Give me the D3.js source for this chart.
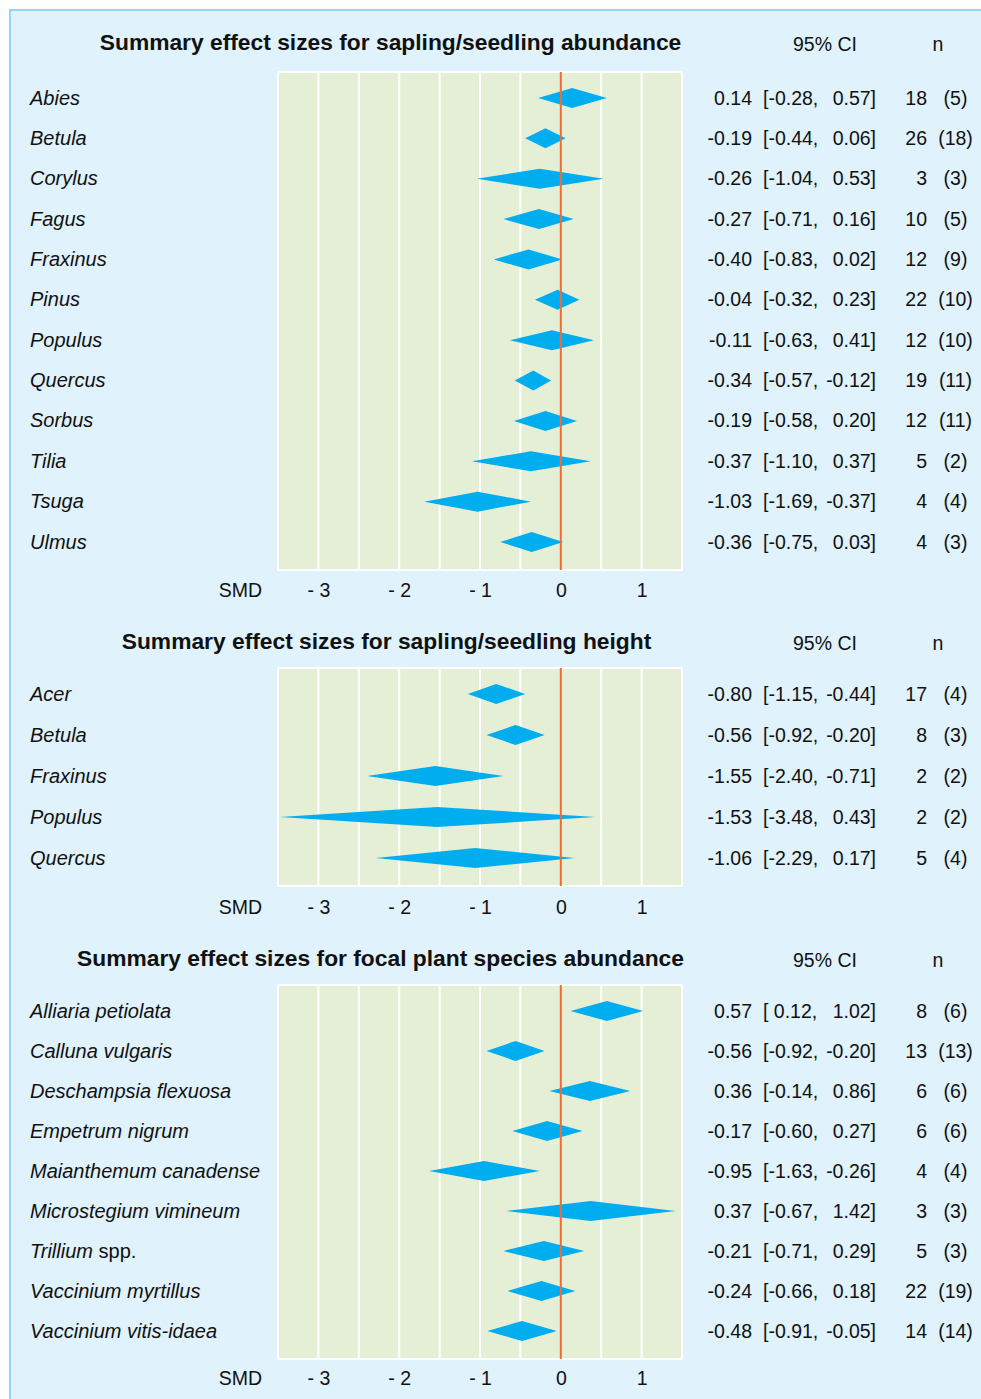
<!DOCTYPE html>
<html>
<head>
<meta charset="utf-8">
<script src="https://cdn.jsdelivr.net/npm/d3@7"></script>
<style>
  html, body { margin: 0; padding: 0; background: #ffffff; }
  svg { display: block; }
  text { font-family: "Liberation Sans", Arial, Helvetica, sans-serif; fill: #111; }
</style>
</head>
<body>
<script>
// ---- Sapling/seedling abundance ----
const abundanceSpecies = ["Abies", "Betula", "Corylus", "Fagus", "Fraxinus", "Pinus", "Populus", "Quercus", "Sorbus", "Tilia", "Tsuga", "Ulmus"];
const abundanceEst  = [0.14, -0.19, -0.26, -0.27, -0.40, -0.04, -0.11, -0.34, -0.19, -0.37, -1.03, -0.36];
const abundanceLow  = [-0.28, -0.44, -1.04, -0.71, -0.83, -0.32, -0.63, -0.57, -0.58, -1.10, -1.69, -0.75];
const abundanceHigh = [0.57, 0.06, 0.53, 0.16, 0.02, 0.23, 0.41, -0.12, 0.20, 0.37, -0.37, 0.03];
const abundanceN    = [18, 26, 3, 10, 12, 22, 12, 19, 12, 5, 4, 4];
const abundanceK    = [5, 18, 3, 5, 9, 10, 10, 11, 11, 2, 4, 3];

// ---- Sapling/seedling height ----
const heightSpecies = ["Acer", "Betula", "Fraxinus", "Populus", "Quercus"];
const heightEst  = [-0.80, -0.56, -1.55, -1.53, -1.06];
const heightLow  = [-1.15, -0.92, -2.40, -3.48, -2.29];
const heightHigh = [-0.44, -0.20, -0.71, 0.43, 0.17];
const heightN    = [17, 8, 2, 2, 5];
const heightK    = [4, 3, 2, 2, 4];

// ---- Focal plant species abundance ----
const focalSpecies = ["Alliaria petiolata", "Calluna vulgaris", "Deschampsia flexuosa", "Empetrum nigrum", "Maianthemum canadense", "Microstegium vimineum", "Trillium spp.", "Vaccinium myrtillus", "Vaccinium vitis-idaea"];
const focalEst  = [0.57, -0.56, 0.36, -0.17, -0.95, 0.37, -0.21, -0.24, -0.48];
const focalLow  = [0.12, -0.92, -0.14, -0.60, -1.63, -0.67, -0.71, -0.66, -0.91];
const focalHigh = [1.02, -0.20, 0.86, 0.27, -0.26, 1.42, 0.29, 0.18, -0.05];
const focalN    = [8, 13, 6, 6, 4, 3, 5, 22, 14];
const focalK    = [6, 13, 6, 6, 4, 3, 3, 19, 14];

// ---- Axis ----
const tickValues = [-3, -2, -1, 0, 1];
const tickLabels = ["- 3", "- 2", "- 1", "0", "1"];
const gridValues = [-3, -2.5, -2, -1.5, -1, -0.5, 0.5, 1];
const axisDomain = [-3.5, 1.5];

const titles = [
  "Summary effect sizes for sapling/seedling abundance",
  "Summary effect sizes for sapling/seedling height",
  "Summary effect sizes for focal plant species abundance"
];

// Panel layout
const panels = [
  { title: titles[0], titleX: 390.5, titleY: 50, top: 72, bottom: 570, axisY: 27,
    species: abundanceSpecies, est: abundanceEst, lo: abundanceLow, hi: abundanceHigh, n: abundanceN, k: abundanceK },
  { title: titles[1], titleX: 386.5, titleY: 649, top: 668, bottom: 886, axisY: 28,
    species: heightSpecies, est: heightEst, lo: heightLow, hi: heightHigh, n: heightN, k: heightK },
  { title: titles[2], titleX: 380.5, titleY: 966, top: 985, bottom: 1359, axisY: 26,
    species: focalSpecies, est: focalEst, lo: focalLow, hi: focalHigh, n: focalN, k: focalK }
];

const W = 981, H = 1399;
const FS = 19.5;      // numbers, heads, ticks
const FS_LAB = 20;    // species names
const colors = {
  page: "#e0f2fc", frame: "#8fd6f7", panel: "#e5efd6", grid: "#ffffff",
  diamond: "#00aeef", zero: "#f26b35"
};

const fmt = v => (v < 0 ? "-" : "") + Math.abs(v).toFixed(2);

const svg = d3.select("body").append("svg").attr("width", W).attr("height", H);

svg.append("rect")
  .attr("x", 10).attr("y", 10).attr("width", W + 20).attr("height", H + 20)
  .attr("fill", colors.page).attr("stroke", colors.frame).attr("stroke-width", 2);

const x = d3.scaleLinear().domain(axisDomain).range([278, 682]);

panels.forEach(p => {
  const g = svg.append("g");
  const y = d3.scalePoint().domain(p.species).range([p.top + 26, p.bottom - 28]);
  const rows = p.species.map((s, i) => ({ s, est: p.est[i], lo: p.lo[i], hi: p.hi[i], n: p.n[i], k: p.k[i] }));

  // title and column heads
  g.append("text").attr("x", p.titleX).attr("y", p.titleY)
    .attr("text-anchor", "middle").attr("font-weight", "bold").attr("font-size", 22.8)
    .text(p.title);
  g.append("text").attr("x", 825).attr("y", p.titleY + 1).attr("text-anchor", "middle")
    .attr("font-size", FS).text("95% CI");
  g.append("text").attr("x", 938).attr("y", p.titleY + 1).attr("text-anchor", "middle")
    .attr("font-size", FS).text("n");

  // plot background
  g.append("rect").attr("x", x(axisDomain[0])).attr("y", p.top)
    .attr("width", x(axisDomain[1]) - x(axisDomain[0])).attr("height", p.bottom - p.top)
    .attr("fill", colors.panel).attr("stroke", colors.grid).attr("stroke-width", 2);

  g.selectAll("line.grid").data(gridValues).join("line").attr("class", "grid")
    .attr("x1", d => x(d)).attr("x2", d => x(d))
    .attr("y1", p.top).attr("y2", p.bottom)
    .attr("stroke", colors.grid).attr("stroke-width", 2);

  // diamonds
  g.selectAll("path.dia").data(rows).join("path").attr("class", "dia")
    .attr("d", d => {
      const cy = y(d.s);
      return `M${x(d.lo)},${cy}L${x(d.est)},${cy - 10}L${x(d.hi)},${cy}L${x(d.est)},${cy + 10}Z`;
    })
    .attr("fill", colors.diamond);

  // zero line
  g.append("line").attr("x1", x(0)).attr("x2", x(0)).attr("y1", p.top).attr("y2", p.bottom)
    .attr("stroke", colors.zero).attr("stroke-width", 2);

  // axis
  const axis = d3.axisBottom(x).tickValues(tickValues)
    .tickFormat((d, i) => tickLabels[i]).tickSize(0).tickPadding(0);
  const ax = g.append("g").attr("transform", `translate(0,${p.bottom})`).call(axis);
  ax.select(".domain").remove();
  ax.selectAll("text").attr("font-size", FS).attr("fill", "#111")
    .attr("font-family", '"Liberation Sans", Arial, sans-serif')
    .attr("dy", null).attr("y", p.axisY);
  g.append("text").attr("x", 262).attr("y", p.bottom + p.axisY).attr("text-anchor", "end")
    .attr("font-size", FS).text("SMD");

  // species labels
  const lab = g.selectAll("text.lab").data(rows).join("text").attr("class", "lab")
    .attr("x", 30).attr("y", d => y(d.s) + 6.5).attr("font-size", FS_LAB);
  lab.each(function (d) {
    const t = d3.select(this);
    const m = d.s.match(/^(.*?)( spp\.)$/);
    if (m) {
      t.append("tspan").attr("font-style", "italic").text(m[1]);
      t.append("tspan").text(m[2]);
    } else {
      t.append("tspan").attr("font-style", "italic").text(d.s);
    }
  });

  // value columns: estimate, [lower, upper], n (k)
  const right = g.selectAll("g.vals").data(rows).join("g").attr("class", "vals")
    .attr("transform", d => `translate(0,${y(d.s) + 6.5})`)
    .attr("font-size", FS);
  right.append("text").attr("x", 752).attr("text-anchor", "end").text(d => fmt(d.est));
  right.append("text").attr("x", 763).attr("xml:space", "preserve")
    .text(d => "[" + (d.lo >= 0 ? " " : "") + fmt(d.lo) + ",");
  right.append("text").attr("x", 876).attr("text-anchor", "end").text(d => fmt(d.hi) + "]");
  right.append("text").attr("x", 927).attr("text-anchor", "end").text(d => d.n);
  right.append("text").attr("x", 955.5).attr("text-anchor", "middle").text(d => `(${d.k})`);
});
</script>
</body>
</html>
